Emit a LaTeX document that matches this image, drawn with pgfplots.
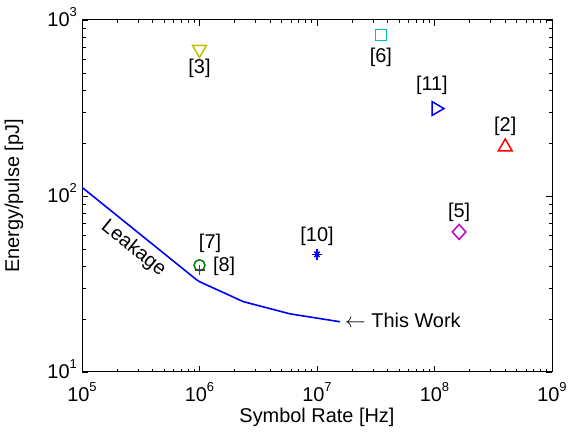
\documentclass[border=0pt]{standalone}
\usepackage{fontspec}
\setmainfont{Liberation Sans}
\usepackage{pgfplots}
\pgfplotsset{compat=1.18}
\newcommand{\tp}[1]{10\raisebox{0.55em}{\fontsize{13}{13}\selectfont #1}}
\definecolor{olive}{rgb}{0.75,0.75,0}
\definecolor{cyanish}{rgb}{0,0.75,0.75}
\definecolor{magentish}{rgb}{0.75,0,0.75}
\definecolor{dgreen}{rgb}{0,0.5,0}
\definecolor{dgray}{rgb}{0.25,0.25,0.25}

\begin{document}
\fontsize{20}{24}\selectfont
\begin{tikzpicture}
\path[use as bounding box] (-82bp,-60bp) rectangle (494bp,372bp);
\begin{axis}[
  at={(0,0)}, anchor=south west,
  scale only axis, width=470bp, height=352bp,
  xmode=log, ymode=log,
  xmin=1e5, xmax=1e9, ymin=10, ymax=1000,
  xtick={1e5,1e6,1e7,1e8,1e9},
  xticklabels={\tp{5},\tp{6},\tp{7},\tp{8},\tp{9}},
  ytick={10,100,1000},
  yticklabels={\tp{1},\tp{2},\tp{3}},
  minor xtick={2e5,3e5,4e5,5e5,6e5,7e5,8e5,9e5,2e6,3e6,4e6,5e6,6e6,7e6,8e6,9e6,
    2e7,3e7,4e7,5e7,6e7,7e7,8e7,9e7,2e8,3e8,4e8,5e8,6e8,7e8,8e8,9e8},
  minor ytick={20,30,40,50,60,70,80,90,200,300,400,500,600,700,800,900},
  xtick pos=both, ytick pos=both,
  tick align=inside,
  major tick length=6bp, minor tick length=3.5bp,
  every tick/.style={black, line width=0.8bp},
  axis line style={line width=1bp},
  xticklabel style={anchor=base, inner sep=0pt, yshift=-30bp},
  yticklabel style={anchor=base east, inner sep=0pt, xshift=-5bp, yshift=-7bp},
  xlabel={Symbol Rate [Hz]},
  ylabel={Energy/pulse [pJ]},
  xlabel style={at={(axis description cs:0.5,-0.128)}, anchor=center},
  ylabel style={at={(axis description cs:-0.145,0.5)}, anchor=center},
  mark options={solid, line width=1.5bp},
]
% Leakage / this work
\addplot[blue, line width=1.6bp, mark=none] coordinates {
  (1e5,112) (9.4e5,33.5) (1e6,32.6) (2.36e6,25.1) (5.89e6,21.4) (1.57e7,19.3)
};
% [3]
\addplot[only marks, olive, mark=triangle, mark size=8bp, mark options={solid, line width=1.5bp, rotate=180}] coordinates {(1e6,680)};
% [6]
\addplot[only marks, cyanish, mark=square, mark size=5.5bp] coordinates {(3.5e7,820)};
% [11]
\addplot[only marks, blue, mark=triangle, mark size=8bp, mark options={solid, line width=1.5bp, rotate=-90}] coordinates {(1.03e8,314)};
% [2]
\addplot[only marks, red, mark=triangle, mark size=8bp] coordinates {(4.0e8,190)};
% [5]
\addplot[only marks, magentish, mark=diamond, mark size=7.5bp, mark options={solid, line width=1.5bp, xscale=1.2}] coordinates {(1.62e8,62.5)};
% [10]
\addplot[only marks, blue, mark=+, mark size=5.3bp] coordinates {(1e7,46.6)};
\addplot[only marks, blue, mark=x, mark size=3.8bp] coordinates {(1e7,46.6)};
% [7]
\addplot[only marks, dgreen, mark=o, mark size=5.5bp] coordinates {(1e6,40.4)};
% [8]
\addplot[only marks, dgray, mark=+, mark size=5bp] coordinates {(1e6,38.0)};

\node at (axis cs:1e6,532) {[3]};
\node at (axis cs:3.5e7,617) {[6]};
\node at (axis cs:9.5e7,428) {[11]};
\node at (axis cs:4.0e8,248) {[2]};
\node at (axis cs:1.62e8,80.4) {[5]};
\node at (axis cs:1e7,58.7) {[10]};
\node at (axis cs:1.23e6,54.1) {[7]};
\node[anchor=west, inner sep=0pt] at (axis cs:1.30e6,40.0) {[8]};
\node[anchor=west, inner sep=0pt] at (axis cs:1.73e7,19.7) {$\leftarrow$ This Work};
\node[rotate=-39, inner sep=0pt] at (axis cs:2.74e5,50.5) {Leakage};
\end{axis}
\end{tikzpicture}
\end{document}
